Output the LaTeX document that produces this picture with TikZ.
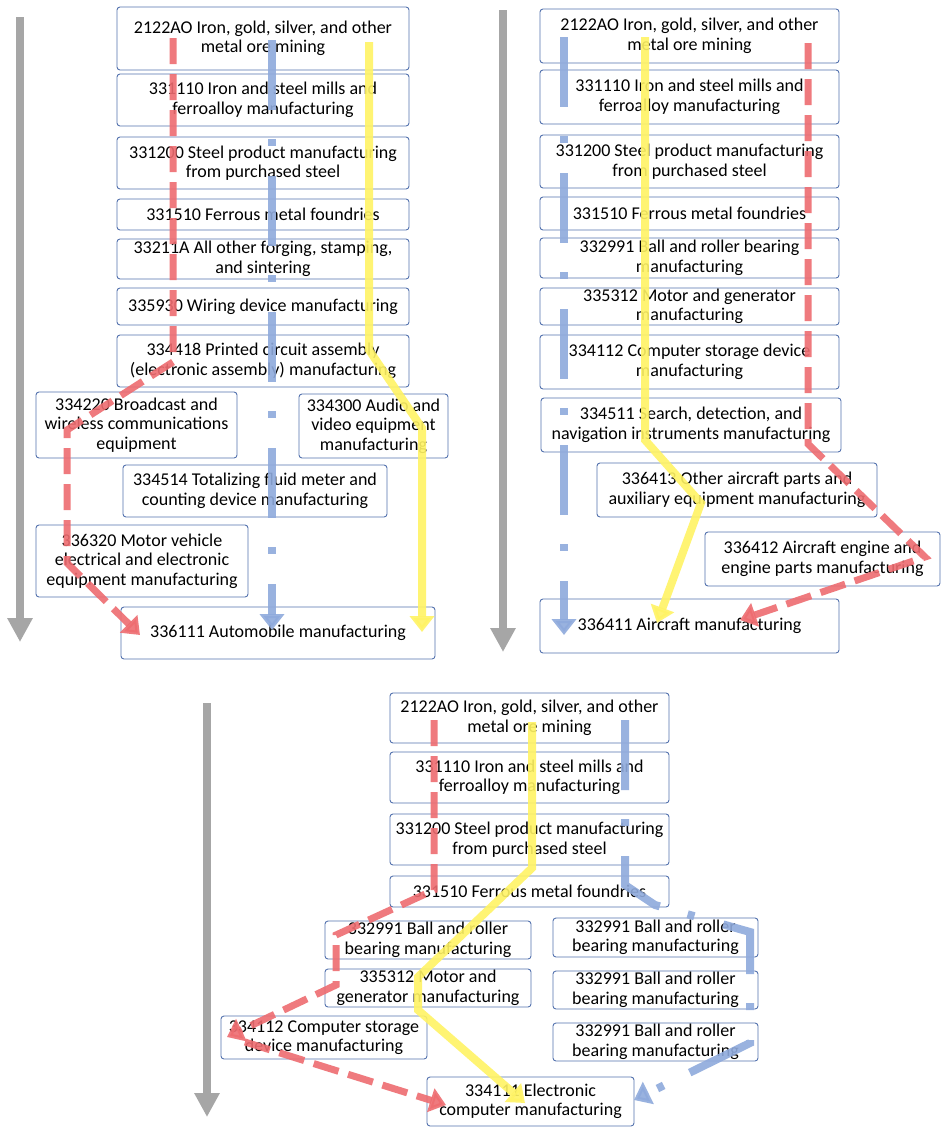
\documentclass[tikz,border=0pt]{standalone}
\usepackage{fontspec}
\setmainfont{Carlito}
\usepackage{xcolor}
\usetikzlibrary{arrows.meta}
\definecolor{boxline}{RGB}{84,114,174}
\definecolor{flowred}{RGB}{238,108,112}
\definecolor{flowblue}{RGB}{143,170,220}
\definecolor{flowyellow}{RGB}{255,243,100}
\definecolor{axisgray}{RGB}{166,166,166}

\begin{document}
\begin{tikzpicture}[x=1pt,y=-1pt,
    box/.style={draw=boxline,line width=0.9pt,fill=white,rounded corners=3pt,align=center,inner sep=0pt,
        font=\fontsize{18}{19.5}\selectfont},
    redflow/.style={draw=flowred,line width=7pt,dash pattern=on 26pt off 10pt,opacity=.9,
        -{Triangle[length=16pt,width=24pt]}},
    blueflow/.style={draw=flowblue,line width=8pt,dash pattern=on 70pt off 29pt on 7pt off 30pt,opacity=.9,
        -{Triangle[length=16pt,width=24pt]}},
    yellowflow/.style={draw=flowyellow,line width=8pt,opacity=.9,
        -{Triangle[length=16pt,width=24pt]}},
    timeaxis/.style={draw=axisgray,line width=8pt,-{Triangle[length=24pt,width=24pt]}}]
    \useasboundingbox[fill=white] (0,0) rectangle (941,1127);

    % Automobile chain
    \node[box,minimum width=292pt,minimum height=63pt] (p1a) at (263,38.5) {2122AO Iron, gold, silver, and other\\metal ore mining};
    \node[box,minimum width=292pt,minimum height=52pt] (p1b) at (263,100) {331110 Iron and steel mills and\\ferroalloy manufacturing};
    \node[box,minimum width=292pt,minimum height=52pt] (p1c) at (263,163) {331200 Steel product manufacturing\\from purchased steel};
    \node[box,minimum width=292pt,minimum height=31pt] (p1d) at (263,214.5) {331510 Ferrous metal foundries};
    \node[box,minimum width=292pt,minimum height=40pt] (p1e) at (263,259) {33211A All other forging, stamping,\\and sintering};
    \node[box,minimum width=292pt,minimum height=37pt] (p1f) at (263,306.5) {335930 Wiring device manufacturing};
    \node[box,minimum width=292pt,minimum height=52pt] (p1g) at (263,361) {334418 Printed circuit assembly\\(electronic assembly) manufacturing};
    \node[box,minimum width=201pt,minimum height=66pt] (p1h) at (136.5,425) {334220 Broadcast and\\wireless communications\\equipment};
    \node[box,minimum width=149pt,minimum height=64pt] (p1i) at (373.5,426) {334300 Audio and\\video equipment\\manufacturing};
    \node[box,minimum width=264pt,minimum height=52pt] (p1j) at (255,491) {334514 Totalizing fluid meter and\\counting device manufacturing};
    \node[box,minimum width=212pt,minimum height=72pt] (p1k) at (142,561) {336320 Motor vehicle\\electrical and electronic\\equipment manufacturing};
    \node[box,minimum width=314pt,minimum height=52pt] (p1l) at (278,633) {336111 Automobile manufacturing};

    % Aircraft chain
    \node[box,minimum width=299pt,minimum height=54pt] (p2a) at (689.5,36) {2122AO Iron, gold, silver, and other\\metal ore mining};
    \node[box,minimum width=299pt,minimum height=54pt] (p2b) at (689.5,97) {331110 Iron and steel mills and\\ferroalloy manufacturing};
    \node[box,minimum width=299pt,minimum height=53pt] (p2c) at (689.5,161.5) {331200 Steel product manufacturing\\from purchased steel};
    \node[box,minimum width=299pt,minimum height=33pt] (p2d) at (689.5,213.5) {331510 Ferrous metal foundries};
    \node[box,minimum width=299pt,minimum height=40pt] (p2e) at (689.5,258) {332991 Ball and roller bearing\\manufacturing};
    \node[box,minimum width=299pt,minimum height=37pt] (p2f) at (689.5,306.5) {335312 Motor and generator\\manufacturing};
    \node[box,minimum width=299pt,minimum height=54pt] (p2g) at (689.5,362) {334112 Computer storage device\\manufacturing};
    \node[box,minimum width=300pt,minimum height=54pt] (p2h) at (691,425) {334511 Search, detection, and\\navigation instruments manufacturing};
    \node[box,minimum width=280pt,minimum height=54pt] (p2i) at (737,490) {336413 Other aircraft parts and\\auxiliary equipment manufacturing};
    \node[box,minimum width=235pt,minimum height=54pt] (p2j) at (822.5,559) {336412 Aircraft engine and\\engine parts manufacturing};
    \node[box,minimum width=299pt,minimum height=54pt] (p2k) at (689.5,626) {336411 Aircraft manufacturing};

    % Computer chain
    \node[box,minimum width=279pt,minimum height=50pt] (p3a) at (529.5,718) {2122AO Iron, gold, silver, and other\\metal ore mining};
    \node[box,minimum width=279pt,minimum height=51pt] (p3b) at (529.5,777.5) {331110 Iron and steel mills and\\ferroalloy manufacturing};
    \node[box,minimum width=279pt,minimum height=51pt] (p3c) at (529.5,839.5) {331200 Steel product manufacturing\\from purchased steel};
    \node[box,minimum width=279pt,minimum height=31pt] (p3d) at (529.5,891.5) {331510 Ferrous metal foundries};
    \node[box,minimum width=206pt,minimum height=38pt] (p3e) at (428,940) {332991 Ball and roller\\bearing manufacturing};
    \node[box,minimum width=206pt,minimum height=38pt] (p3f) at (428,988) {335312 Motor and\\generator manufacturing};
    \node[box,minimum width=206pt,minimum height=43pt] (p3g) at (324,1037.5) {334112 Computer storage\\device manufacturing};
    \node[box,minimum width=207pt,minimum height=49pt] (p3h) at (530.5,1101.5) {334111 Electronic\\computer manufacturing};
    \node[box,minimum width=205pt,minimum height=39pt] (p3r1) at (655.5,937.5) {332991 Ball and roller\\bearing manufacturing};
    \node[box,minimum width=205pt,minimum height=38pt] (p3r2) at (655.5,990) {332991 Ball and roller\\bearing manufacturing};
    \node[box,minimum width=205pt,minimum height=38pt] (p3r3) at (655.5,1042) {332991 Ball and roller\\bearing manufacturing};

    % Time axes
    \coordinate (t1a) at (20,17);   \coordinate (t1b) at (20,642);
    \coordinate (t2a) at (503,10);  \coordinate (t2b) at (503,652);
    \coordinate (t3a) at (207,703); \coordinate (t3b) at (207,1117);
    \draw[timeaxis] (t1a) -- (t1b);
    \draw[timeaxis] (t2a) -- (t2b);
    \draw[timeaxis] (t3a) -- (t3b);

    % Flows, automobile
    \coordinate (r1a) at (173,38);  \coordinate (r1b) at (173,362);
    \coordinate (r1c) at (67,430);  \coordinate (r1d) at (67,563);
    \coordinate (r1e) at (140,635);
    \coordinate (b1a) at (272,40);  \coordinate (b1b) at (272,630);
    \coordinate (y1a) at (369,42);  \coordinate (y1b) at (369,350);
    \coordinate (y1c) at (422,428); \coordinate (y1d) at (422,632);
    \draw[redflow] (r1a) -- (r1b) -- (r1c) -- (r1d) -- (r1e);
    \draw[blueflow] (b1a) -- (b1b);
    \draw[yellowflow] (y1a) -- (y1b) -- (y1c) -- (y1d);

    % Flows, aircraft
    \coordinate (b2a) at (564,37);  \coordinate (b2b) at (564,635);
    \coordinate (y2a) at (645,37);  \coordinate (y2b) at (645,440);
    \coordinate (y2c) at (701,503); \coordinate (y2d) at (657,623);
    \coordinate (r2a) at (808,43);  \coordinate (r2b) at (808,444);
    \coordinate (r2c) at (925,557); \coordinate (r2d) at (740,620);
    \draw[blueflow] (b2a) -- (b2b);
    \draw[yellowflow] (y2a) -- (y2b) -- (y2c) -- (y2d);
    \draw[redflow] (r2a) -- (r2b) -- (r2c) -- (r2d);

    % Flows, computer
    \coordinate (r3a) at (434,720);  \coordinate (r3b) at (434,890);
    \coordinate (r3c) at (336,935);  \coordinate (r3d) at (336,985);
    \coordinate (r3e) at (227,1037); \coordinate (r3f) at (245,1042);
    \coordinate (r3g) at (446,1105);
    \coordinate (y3a) at (532,722);  \coordinate (y3b) at (532,868);
    \coordinate (y3c) at (418,977);  \coordinate (y3d) at (418,1010);
    \coordinate (y3e) at (525,1103);
    \coordinate (b3a) at (625,720);  \coordinate (b3b) at (625,885);
    \coordinate (b3c) at (655,905);  \coordinate (b3d) at (750,932);
    \coordinate (b3e) at (750,1043); \coordinate (b3f) at (634,1100);
    \draw[redflow] (r3a) -- (r3b) -- (r3c) -- (r3d) -- (r3e);
    \draw[redflow] (r3f) -- (r3g);
    \draw[yellowflow] (y3a) -- (y3b) -- (y3c) -- (y3d) -- (y3e);
    \draw[blueflow] (b3a) -- (b3b) -- (b3c) -- (b3d) -- (b3e) -- (b3f);
\end{tikzpicture}
\end{document}
